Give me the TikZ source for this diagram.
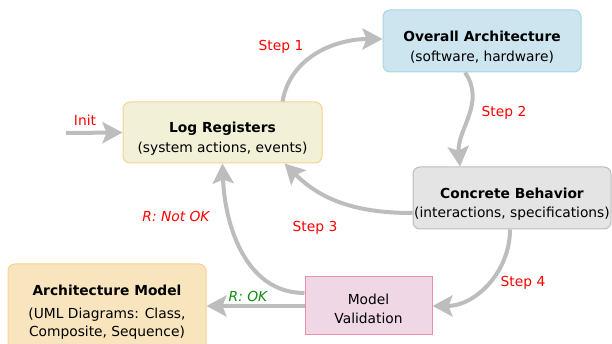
\documentclass[tikz,border=0pt]{standalone}
\usepackage{fontspec}
\setmainfont{DejaVu Sans}
\usetikzlibrary{arrows.meta}
\definecolor{flowgray}{HTML}{BDBDBD}
\definecolor{logfill}{HTML}{F3F0D8}
\definecolor{logline}{HTML}{F5D38C}
\definecolor{archfill}{HTML}{CCE5EF}
\definecolor{archline}{HTML}{A9D5E4}
\definecolor{behfill}{HTML}{E4E4E4}
\definecolor{behline}{HTML}{BCBCBC}
\definecolor{modfill}{HTML}{F8E5BD}
\definecolor{valfill}{HTML}{F0D7E6}
\definecolor{valline}{HTML}{E890A8}
\definecolor{okgreen}{HTML}{138A13}
\newcommand{\Title}[1]{\textbf{#1}}
\newcommand{\Lift}{\rule{0pt}{23pt}}

\begin{document}
\begin{tikzpicture}[x=1pt, y=1pt,
  every node/.style={font=\fontsize{13.8}{19.5}\selectfont},
  block/.style={draw, line width=1pt, rounded corners=7pt, align=center, inner sep=0pt},
  flow/.style={draw=flowgray, line width=4pt, -{Stealth[length=20pt,width=21pt,inset=4pt]}},
  steplbl/.style={text=red},
]
\useasboundingbox (0,0) rectangle (612,344);
% boxes
\node[block, fill=logfill, draw=logline, minimum width=199pt, minimum height=61pt] (log) at (222.5,211.5)
  {\Lift\Title{Log Registers}\\(system actions, events)};
\node[block, fill=archfill, draw=archline, minimum width=198pt, minimum height=62pt] (arch) at (482,303)
  {\Lift\Title{Overall Architecture}\\(software, hardware)};
\node[block, fill=behfill, draw=behline, minimum width=198pt, minimum height=62pt] (beh) at (512,146)
  {\Lift\Title{Concrete Behavior}\\(interactions, specifications)};
\node[block, fill=modfill, draw=logline, minimum width=198pt, minimum height=96pt] (model) at (107,32)
  {\Title{Architecture Model}\\[4pt](UML Diagrams: Class,\\[-2pt]Composite, Sequence)};
\node[draw=valline, fill=valfill, line width=1pt, align=center, minimum width=127pt, minimum height=58pt, inner sep=0pt] (val) at (368.5,38)
  {\rule{0pt}{16pt}Model\\Validation};
% arrows
\coordinate (start) at (66,211);
\draw[flow] (start) -- (log.west);
\draw[flow] ([xshift=60pt]log.north) to[out=80, in=180] ([yshift=2pt]arch.west);
\draw[flow] ([xshift=-17pt]arch.south) to[out=-55, in=95] ([xshift=-52pt]beh.north);
\draw[flow] ([yshift=-15pt]beh.west) to[out=180, in=-45] ([xshift=62pt]log.south);
\draw[flow] ([xshift=-2pt]beh.south) to[out=-90, in=0] (val.east);
\draw[flow] ([yshift=13pt]val.west) to[out=180, in=-88] (log.south);
\draw[flow] (val.west) -- (model.east |- val.west);
% labels
\node[steplbl] (linit) at (85,224) {Init};
\node[steplbl] (l1) at (281,297) {Step 1};
\node[steplbl] (l2) at (504,231) {Step 2};
\node[steplbl] (l3) at (315,116) {Step 3};
\node[steplbl] (l4) at (523,61) {Step 4};
\node[text=red, font=\fontsize{13.8}{16}\selectfont\itshape] (lnok) at (176,128) {R: Not OK};
\node[text=okgreen, font=\fontsize{13.8}{16}\selectfont\itshape] (lok) at (248,48) {R: OK};
\end{tikzpicture}
\end{document}
